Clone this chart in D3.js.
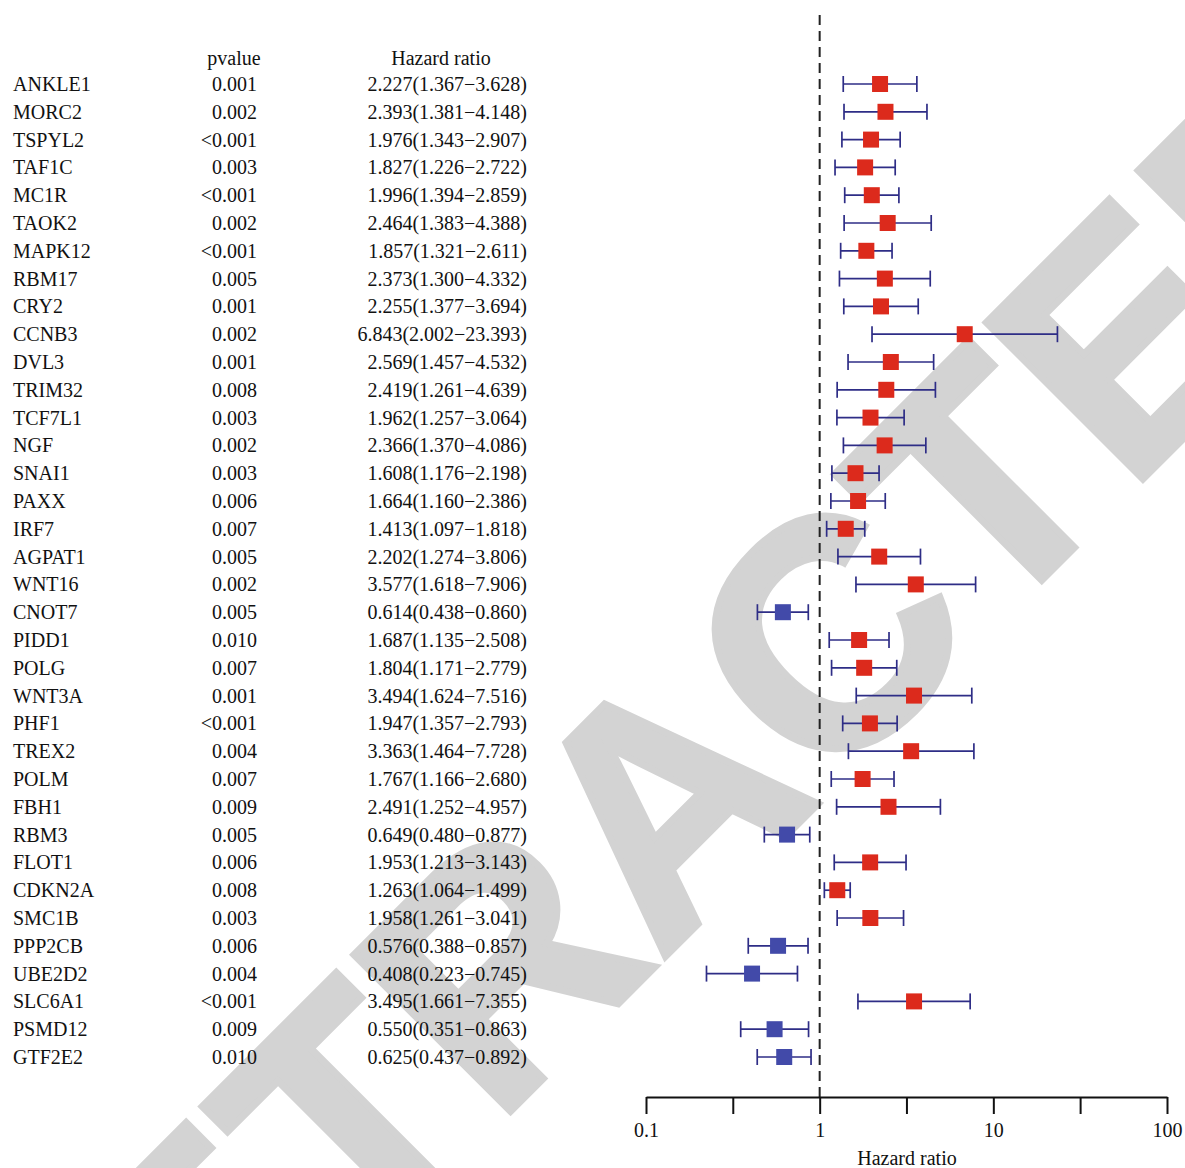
<!DOCTYPE html>
<html>
<head>
<meta charset="utf-8">
<script src="https://cdn.jsdelivr.net/npm/d3@7"></script>
<style>
  body { margin: 0; background: #fff; }
  svg { display: block; }
  text { font-family: 'Liberation Serif', 'Times New Roman', serif; fill: #111; }
</style>
</head>
<body>
<svg id="chart"></svg>
<script>
'use strict'

const genes = ['ANKLE1', 'MORC2', 'TSPYL2', 'TAF1C', 'MC1R', 'TAOK2', 'MAPK12', 'RBM17', 'CRY2',
  'CCNB3', 'DVL3', 'TRIM32', 'TCF7L1', 'NGF', 'SNAI1', 'PAXX', 'IRF7', 'AGPAT1', 'WNT16',
  'CNOT7', 'PIDD1', 'POLG', 'WNT3A', 'PHF1', 'TREX2', 'POLM', 'FBH1', 'RBM3', 'FLOT1',
  'CDKN2A', 'SMC1B', 'PPP2CB', 'UBE2D2', 'SLC6A1', 'PSMD12', 'GTF2E2']
const pvalues = ['0.001', '0.002', '<0.001', '0.003', '<0.001', '0.002', '<0.001', '0.005', '0.001',
  '0.002', '0.001', '0.008', '0.003', '0.002', '0.003', '0.006', '0.007', '0.005', '0.002',
  '0.005', '0.010', '0.007', '0.001', '<0.001', '0.004', '0.007', '0.009', '0.005', '0.006',
  '0.008', '0.003', '0.006', '0.004', '<0.001', '0.009', '0.010']
const hr = ['2.227', '2.393', '1.976', '1.827', '1.996', '2.464', '1.857', '2.373', '2.255',
  '6.843', '2.569', '2.419', '1.962', '2.366', '1.608', '1.664', '1.413', '2.202', '3.577',
  '0.614', '1.687', '1.804', '3.494', '1.947', '3.363', '1.767', '2.491', '0.649', '1.953',
  '1.263', '1.958', '0.576', '0.408', '3.495', '0.550', '0.625']
const hrLow = ['1.367', '1.381', '1.343', '1.226', '1.394', '1.383', '1.321', '1.300', '1.377',
  '2.002', '1.457', '1.261', '1.257', '1.370', '1.176', '1.160', '1.097', '1.274', '1.618',
  '0.438', '1.135', '1.171', '1.624', '1.357', '1.464', '1.166', '1.252', '0.480', '1.213',
  '1.064', '1.261', '0.388', '0.223', '1.661', '0.351', '0.437']
const hrHigh = ['3.628', '4.148', '2.907', '2.722', '2.859', '4.388', '2.611', '4.332', '3.694',
  '23.393', '4.532', '4.639', '3.064', '4.086', '2.198', '2.386', '1.818', '3.806', '7.906',
  '0.860', '2.508', '2.779', '7.516', '2.793', '7.728', '2.680', '4.957', '0.877', '3.143',
  '1.499', '3.041', '0.857', '0.745', '7.355', '0.863', '0.892']
const axisTicks = [0.1, 0.316, 1, 3.16, 10, 31.6, 100]
const axisLabels = ['0.1', '', '1', '', '10', '', '100']

const width = 1185
const height = 1168

const rows = genes.map((g, i) => ({
  gene: g,
  p: pvalues[i],
  hr: +hr[i],
  lo: +hrLow[i],
  hi: +hrHigh[i],
  label: `${hr[i]}(${hrLow[i]}\u2212${hrHigh[i]})`
}))

const svg = d3.select('#chart').attr('width', width).attr('height', height)

// watermark behind the chart
svg.append('text')
  .attr('transform', 'translate(742,880) rotate(-45)')
  .attr('text-anchor', 'middle')
  .style('font-family', "'Liberation Sans', Arial, sans-serif")
  .style('font-weight', 'bold')
  .style('font-size', '322px')
  .style('fill', '#d3d3d3')
  .style('stroke', '#d3d3d3')
  .style('stroke-width', 7)
  .style('stroke-linejoin', 'miter')
  .text('RETRACTED')

const x = d3.scaleLog().domain([0.1, 100]).range([646, 1167])
const y = d3.scalePoint().domain(genes).range([84, 1057])

// text columns
const fs = '20px'
svg.append('text').attr('x', 234).attr('y', 65).attr('text-anchor', 'middle')
  .style('font-size', fs).text('pvalue')
svg.append('text').attr('x', 441).attr('y', 65).attr('text-anchor', 'middle')
  .style('font-size', fs).text('Hazard ratio')

const rowG = svg.append('g').selectAll('g')
  .data(rows)
  .enter()
  .append('g')
  .attr('transform', (d) => `translate(0,${y(d.gene) + 7})`)

rowG.append('text').attr('x', 13).style('font-size', fs).text((d) => d.gene)
rowG.append('text').attr('x', 257).attr('text-anchor', 'end').style('font-size', fs).text((d) => d.p)
rowG.append('text').attr('x', 527).attr('text-anchor', 'end').style('font-size', fs).text((d) => d.label)

// reference line at HR = 1
svg.append('line')
  .attr('x1', x(1)).attr('x2', x(1))
  .attr('y1', 15).attr('y2', 1097)
  .style('stroke', '#222')
  .style('stroke-width', 2)
  .style('stroke-dasharray', '10,6')

// confidence intervals
const ci = svg.append('g').selectAll('g')
  .data(rows)
  .enter()
  .append('g')
  .style('stroke', '#2e2d86')
  .style('stroke-width', 1.7)

ci.append('line')
  .attr('x1', (d) => x(d.lo)).attr('x2', (d) => x(d.hi))
  .attr('y1', (d) => y(d.gene)).attr('y2', (d) => y(d.gene))
ci.append('line')
  .attr('x1', (d) => x(d.lo)).attr('x2', (d) => x(d.lo))
  .attr('y1', (d) => y(d.gene) - 8).attr('y2', (d) => y(d.gene) + 8)
ci.append('line')
  .attr('x1', (d) => x(d.hi)).attr('x2', (d) => x(d.hi))
  .attr('y1', (d) => y(d.gene) - 8).attr('y2', (d) => y(d.gene) + 8)

svg.append('g').selectAll('rect')
  .data(rows)
  .enter()
  .append('rect')
  .attr('x', (d) => x(d.hr) - 8)
  .attr('y', (d) => y(d.gene) - 8)
  .attr('width', 16)
  .attr('height', 16)
  .style('fill', (d) => d.hr > 1 ? '#dc2a1c' : '#424aa9')

// x axis
const axis = d3.axisBottom(x)
  .tickValues(axisTicks)
  .tickFormat((d, i) => axisLabels[i])
  .tickSize(17)
  .tickSizeOuter(0)
  .tickPadding(9)

const ax = svg.append('g').attr('transform', 'translate(0,1097)').call(axis)
ax.select('.domain').style('stroke', '#111').style('stroke-width', 2)
ax.selectAll('.tick line').style('stroke', '#111').style('stroke-width', 2)
ax.selectAll('.tick text')
  .style('font-family', "'Liberation Serif', 'Times New Roman', serif")
  .style('font-size', fs)
  .style('fill', '#111')

svg.append('text').attr('x', 907).attr('y', 1165).attr('text-anchor', 'middle')
  .style('font-size', fs).text('Hazard ratio')
</script>
</body>
</html>
